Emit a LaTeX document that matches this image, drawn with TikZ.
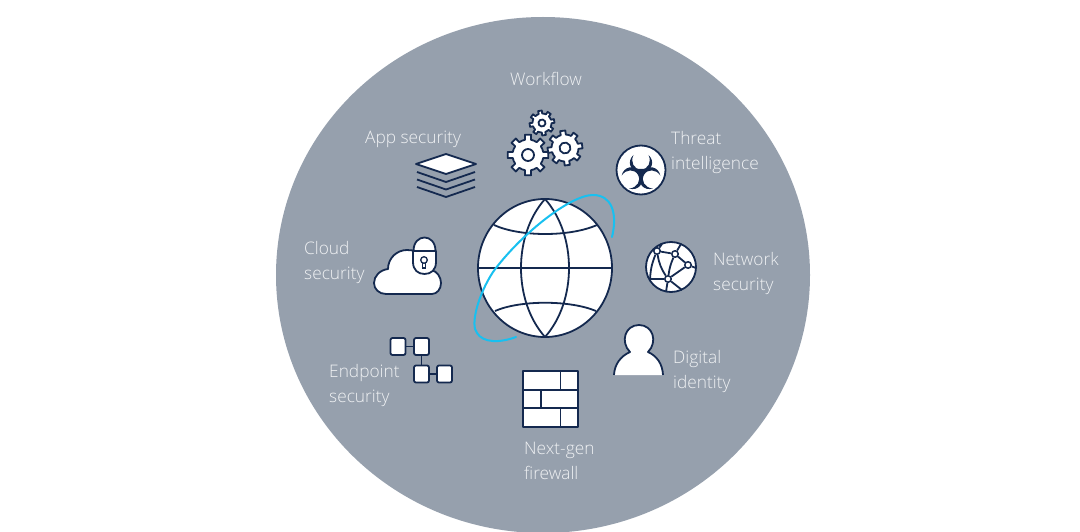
\documentclass[tikz,border=0pt]{standalone}
\usepackage{fontspec}
\setmainfont{Open Sans Light}
\definecolor{discgray}{HTML}{96A0AD}
\definecolor{inkblue}{HTML}{14294F}
\definecolor{orbitcyan}{HTML}{18C0F0}
\definecolor{tagwhite}{HTML}{F0F2F4}
\tikzset{icon/.style={draw=inkblue,fill=white,line width=1.8pt,line join=round},
    inkline/.style={draw=inkblue,line width=1.8pt},
    tag/.style={text=tagwhite,font=\fontsize{17.3}{25}\selectfont,align=left,anchor=west,inner sep=0pt},
    netnode/.style={circle,icon,line width=1.5pt,minimum size=6.5pt,inner sep=0pt},
    epbox/.style={rectangle,icon,rounded corners=2pt,minimum width=15pt,minimum height=17pt,inner sep=0pt}}
% position, tip radius, root radius, hole radius, teeth, rotation
\newcommand{\gearicon}[6]{
    \begin{scope}[shift={#1},rotate=#6]
        \pgfmathsetmacro{\stepang}{360/#5}
        \draw[icon] (0:#3)
            \foreach \t in {1,...,#5}{
                -- ({(\t-1)*\stepang+\stepang*0.26}:#3)
                -- ({(\t-1)*\stepang+\stepang*0.31}:#2)
                -- ({\t*\stepang-\stepang*0.31}:#2)
                -- ({\t*\stepang-\stepang*0.26}:#3)
                -- ({\t*\stepang}:#3)
            } -- cycle;
        \draw[icon] (0,0) circle[radius=#4];
    \end{scope}
}

\begin{document}
\begin{tikzpicture}[x=1pt,y=-1pt]
    \useasboundingbox (0,0) rectangle (1080,532);
    \fill[discgray] (543,275) ellipse[x radius=267,y radius=258];

    % globe
    \draw[icon] (545,268) ellipse[x radius=67,y radius=69];
    \coordinate (gtop) at (545,199);
    \coordinate (gbot) at (545,337);
    \coordinate (gleft) at (478,268);
    \coordinate (gright) at (612,268);
    \draw[inkline] (gleft) -- (gright);
    \draw[inkline] (gtop) .. controls (513,235) and (513,301) .. (gbot);
    \draw[inkline] (gtop) .. controls (577,235) and (577,301) .. (gbot);
    \draw[inkline] (494,225) .. controls (520,237) and (570,237) .. (597,225);
    \draw[inkline] (495,311) .. controls (520,300) and (570,300) .. (596,311);
    \draw[orbitcyan,line width=2pt,line cap=round] (612,237) .. controls (618,212) and (611,195) .. (593,195)
        .. controls (570,195) and (520,235) .. (493,272)
        .. controls (478,295) and (470,325) .. (477,333)
        .. controls (483,343) and (500,343) .. (516,337);

    % gears
    \gearicon{(528,155)}{20.5}{15.5}{6}{8}{22.5}
    \gearicon{(565,148)}{17.5}{13.5}{5.5}{8}{30}
    \gearicon{(542,123)}{12.5}{9.5}{3.5}{8}{32}

    % app stack
    \draw[icon] (416,164) -- (446,154) -- (476,164) -- (446,174) -- cycle;
    \foreach \y in {172,179.5,187}
        \draw[inkline] (417,\y) -- (446,\y+10) -- (475,\y);

    % cloud and padlock
    \draw[icon] (386,294) .. controls (379,294) and (374,289) .. (374,283)
        .. controls (374,276) and (380,270) .. (388,269)
        .. controls (388,258) and (397,250) .. (407,250)
        .. controls (420,250) and (428,258) .. (431,270)
        .. controls (437,271) and (441,277) .. (441,283)
        .. controls (441,289) and (437,294) .. (432,294) -- cycle;
    \draw[icon] (413.5,251) .. controls (413.5,233) and (435.5,233) .. (435.5,251);
    \draw[icon] (413,251) -- (436,251) -- (436,262) .. controls (436,270) and (431,274) .. (424.5,274)
        .. controls (418,274) and (413,270) .. (413,262) -- cycle;
    \draw[inkline,line width=1.3pt] (424,260) circle[radius=3.3];
    \draw[inkline,line width=1.3pt] (422.5,263) -- (422.5,268) -- (425.5,268) -- (425.5,263);

    % biohazard
    \draw[icon] (641,170) circle[radius=24.5];
    \foreach \a in {0,120,240}
        \fill[inkblue,rotate around={\a:(641,173)}] (633.5,155) .. controls (627,161) and (629,171) .. (641,173.5)
            .. controls (653,171) and (655,161) .. (648.5,155)
            .. controls (652,162) and (648,169.5) .. (641,169.5)
            .. controls (634,169.5) and (630,162) .. (633.5,155) -- cycle;
    \fill[inkblue] (635,169) -- (647,169) -- (641,179) -- cycle;

    % network globe
    \draw[icon] (671,267) circle[radius=25];
    \node[netnode] (nleft) at (657,251) {};
    \node[netnode] (ntop) at (675,254) {};
    \node[netnode] (nright) at (688,265) {};
    \node[netnode] (nbot) at (668,279) {};
    \coordinate (edgea) at (681,244);
    \coordinate (edgeb) at (696,268);
    \coordinate (edgec) at (649,279);
    \coordinate (edged) at (682,290);
    \coordinate (edgee) at (666,292);
    \coordinate (edgef) at (650,281);
    \coordinate (edgeg) at (662,244);
    \draw[inkline] (nleft) -- (ntop);
    \draw[inkline] (ntop) -- (nright);
    \draw[inkline] (nright) -- (nbot);
    \draw[inkline] (ntop) to[bend right=8] (nbot);
    \draw[inkline] (nleft) to[bend right=12] (nbot);
    \draw[inkline] (ntop) -- (edgea);
    \draw[inkline] (nright) -- (edgeb);
    \draw[inkline] (nbot) -- (edgec);
    \draw[inkline] (nbot) -- (edged);
    \draw[inkline] (nbot) -- (edgee);
    \draw[inkline] (nleft) to[bend right=10] (edgef);
    \draw[inkline] (nleft) -- (edgeg);

    % person
    \draw[icon] (614,375) .. controls (614.5,364) and (621,356) .. (630,352)
        .. controls (620,342) and (625,325) .. (639,325)
        .. controls (653,325) and (658,342) .. (648,352)
        .. controls (657,356) and (662.5,364) .. (663,375);

    % firewall
    \draw[icon] (523,371) rectangle (578,427);
    \draw[inkline] (523,390) -- (579,390);
    \draw[inkline] (523,408) -- (579,408);
    \draw[inkline] (560.5,371) -- (560.5,390);
    \draw[inkline] (541,390) -- (541,408);
    \draw[inkline] (560.5,408) -- (560.5,427);

    % endpoint boxes
    \node[epbox] (epa) at (398,346.5) {};
    \node[epbox] (epb) at (421.5,346.5) {};
    \node[epbox] (epc) at (421.5,374) {};
    \node[epbox] (epd) at (444.5,374) {};
    \draw[inkline] (epa) -- (epb);
    \draw[inkline] (epb) -- (epc);
    \draw[inkline] (epc) -- (epd);

    % labels
    \node[tag] (workflow) at (510,79) {Workflow};
    \node[tag] (appsec) at (365,139) {App security};
    \node[tag] (threat) at (671,153) {Threat\\intelligence};
    \node[tag] (cloudsec) at (304,263) {Cloud\\security};
    \node[tag] (netsec) at (713,274) {Network\\security};
    \node[tag] (digital) at (673,372) {Digital\\identity};
    \node[tag] (endpoint) at (329,386) {Endpoint\\security};
    \node[tag] (nextgen) at (524,461) {Next-gen\\firewall};
\end{tikzpicture}
\end{document}
